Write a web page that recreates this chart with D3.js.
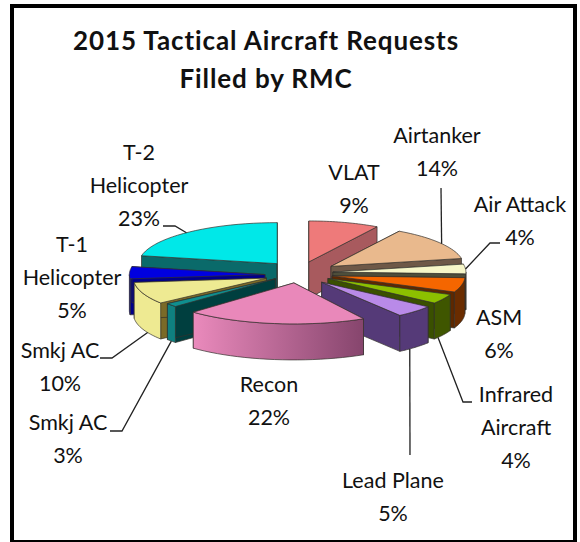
<!DOCTYPE html>
<html><head><meta charset="utf-8">
<script src="https://cdn.jsdelivr.net/npm/d3@7"></script>
<style>html,body{margin:0;padding:0;background:#fff;overflow:hidden}svg{display:block}text{font-family:"Comic Sans MS",Lato,"Open Sans",sans-serif;fill:#111}</style>
</head><body><svg id="c" width="580" height="542"></svg>
<script>
const categories=["VLAT","Airtanker","Air Attack","ASM","Infrared Aircraft","Lead Plane","Recon","Smkj AC","Smkj AC","T-1 Helicopter","T-2 Helicopter"];
const values=[9,14,4,6,4,5,22,3,10,5,23];
const titleLines=["2015 Tactical Aircraft Requests","Filled by RMC"];
const topColors=["#ee7a7a","#e9b98d","#f6f6c8","#f56600","#8cc000","#b98ae8","#e988ba","#0f8f8f","#eeea92","#0000e0","#00e8e8"];
const wallColors=["#a85a5e","#6e5847","#4e4e3a","#5e2800","#3a5000","#553a78","#a05a85","#003f3f","#7a6a28","#00008a","#0a6a6a"];
const rimColors=["#a85a5e","#a08a70","#a8a880","#6a2c00","#3f5600","#553a78","#e988ba","#0f8080","#eeea92","#0000c8","#0a6a6a"];
const explode=[52,44,38,38,38,38,38,28,31,30,28];
const explodeDrop=[8,4,2,2,1,2,-1,1,3,4,0];
const widen=[1,1,1,1,1,1,1.08,1.02,1,1.02,1.04];
const startTrim=[0,0,0,0,0,0,7,8,3,0,0];
const endTrim=[0,0,0,0,0,0,5,3,0,0,0];
const drawOrder=[10,0,1,2,3,4,9,5,8,7,6];
const labelLines=[["VLAT","9%"],["Airtanker","14%"],["Air Attack","4%"],["ASM","6%"],["Infrared","Aircraft","4%"],["Lead Plane","5%"],["Recon","22%"],["Smkj AC","3%"],["Smkj AC","10%"],["T-1","Helicopter","5%"],["T-2","Helicopter","23%"]];
const labelPos=[[354,180],[437,143],[520,212],[499,325],[516,402],[393,488],[269,392],[68,430],[60,358],[72,252],[139,160]];
const leaderVia=[null,[[441,188]],[[490,243],[500,243]],null,[[463,402],[472,402]],[[410,455]],null,[[122,431],[110,431]],[[112,358],[100,358]],null,[[175,226],[163,226]]];
const leaderFrac=[0,.53,.5,0,.8,.68,0,.5,.34,0,.48];

const cx=295,cy=271,rx=133,ry=41,depth=36,expK=.34;
const rad=d=>d*Math.PI/180;
const svg=d3.select("#c");
const defs=svg.append("defs");
const g=defs.append("linearGradient").attr("id","reconWall");
g.append("stop").attr("offset","0").attr("stop-color","#ea8abc");
g.append("stop").attr("offset","1").attr("stop-color","#86456d");
svg.append("rect").attr("x",12).attr("y",6).attr("width",563).attr("height",536).attr("fill","#fff").attr("stroke","#000").attr("stroke-width",4);

const arcs=d3.pie().sort(null).value(d=>d)(values).map((s,i)=>({
  a0:s.startAngle+rad(startTrim[i]),a1:s.endAngle+rad(endTrim[i]),mid:(s.startAngle+s.endAngle)/2}));
const line=d3.line();
const projector=i=>{
  const s=arcs[i];
  const ox=explode[i]*Math.sin(s.mid),oy=-explode[i]*expK*Math.cos(s.mid)+explodeDrop[i];
  return (a,r,z)=>[cx+ox+r*rx*widen[i]*Math.sin(a),cy+oy-r*ry*Math.cos(a)+z];
};
const sample=(a0,a1)=>d3.range(0,25).map(i=>a0+(a1-a0)*i/24);

const pie=svg.append("g");
drawOrder.forEach(i=>{
  const s=arcs[i],p=projector(i);
  const gg=pie.append("g").attr("stroke","#33302c").attr("stroke-width",.7).attr("stroke-linejoin","round");
  [s.a0,s.a1].forEach(a=>{
    gg.append("path").attr("fill",wallColors[i])
      .attr("d",line([p(0,0,0),p(a,1,0),p(a,1,depth),p(0,0,depth)])+"Z");
  });
  const f0=Math.max(s.a0,Math.PI/2),f1=Math.min(s.a1,Math.PI*1.5);
  if(f1>f0){
    const fs=sample(f0,f1);
    gg.append("path").attr("fill",i===6?"url(#reconWall)":rimColors[i])
      .attr("d",line(fs.map(a=>p(a,1,0)).concat(fs.slice().reverse().map(a=>p(a,1,depth))))+"Z");
  }
  gg.append("path").attr("fill",topColors[i])
    .attr("d",line([p(0,0,0)].concat(sample(s.a0,s.a1).map(a=>p(a,1,0))))+"Z");
});

const lead=svg.append("g").attr("fill","none").attr("stroke","#222").attr("stroke-width",1.3);
arcs.forEach((s,i)=>{
  if(!leaderVia[i])return;
  const a=s.a0+(s.a1-s.a0)*leaderFrac[i];
  const z=Math.cos(a)<0?depth:0;
  lead.append("path").attr("d",line([projector(i)(a,1,z)].concat(leaderVia[i])));
});

const lab=svg.append("g").attr("text-anchor","middle").attr("font-size",21.5);
labelLines.forEach((ls,i)=>{
  ls.forEach((t,k)=>lab.append("text").attr("x",labelPos[i][0]).attr("y",labelPos[i][1]+k*33).text(t));
});
titleLines.forEach((t,k)=>svg.append("text").attr("x",266).attr("y",50+k*38).attr("text-anchor","middle")
  .attr("font-size",26).attr("font-weight",700).attr("letter-spacing",.9).text(t));
</script></body></html>
